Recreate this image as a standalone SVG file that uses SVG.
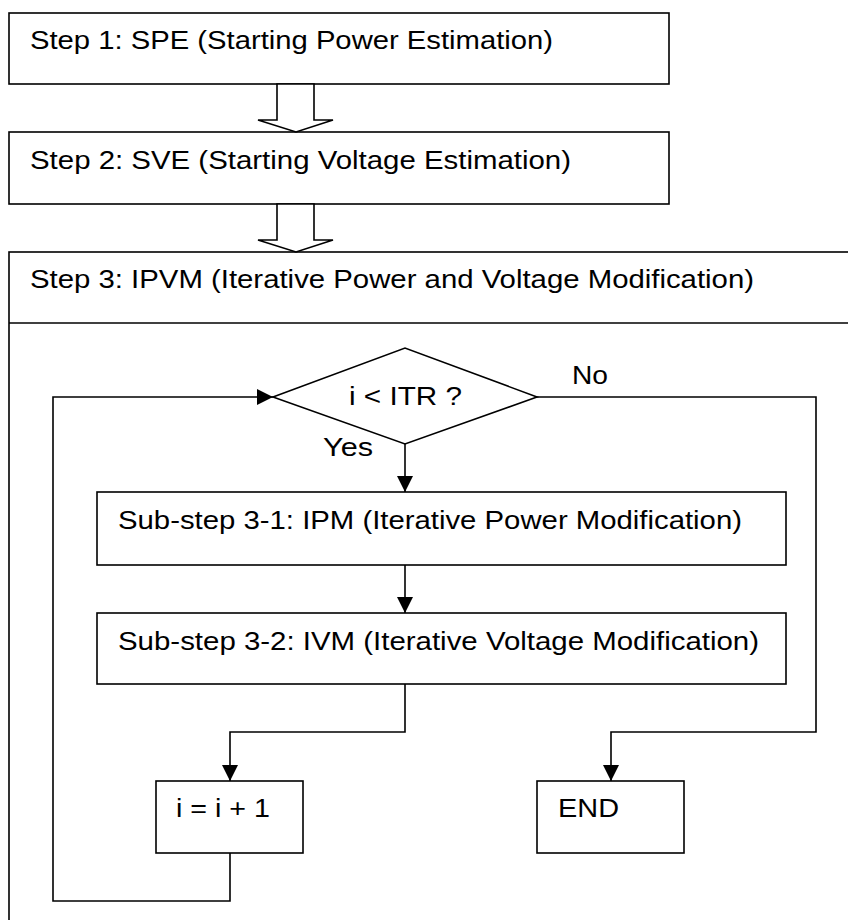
<svg xmlns="http://www.w3.org/2000/svg" width="848" height="920" viewBox="0 0 848 920">
  <style>
    .box { fill: #ffffff; stroke: #000000; stroke-width: 1.6; }
    .flow { fill: none; stroke: #000000; stroke-width: 1.6; }
    .label { font-family: "Liberation Sans", Arial, sans-serif; font-size: 26.5px; fill: #000000; }
  </style>
  <defs>
    <marker id="arrow" markerUnits="userSpaceOnUse" markerWidth="16" markerHeight="16" refX="16" refY="8" orient="auto">
      <path d="M0,0 L16,8 L0,16 Z" fill="#000000"/>
    </marker>
  </defs>
  <rect width="848" height="920" fill="#ffffff"/>

  <!-- outer stage 3 frame, continues past the page edge -->
  <g id="step3">
    <rect class="box" x="9" y="252" width="870" height="700"/>
    <line class="flow" x1="9" y1="323" x2="860" y2="323"/>
    <text class="label" x="30" y="288" textLength="724" lengthAdjust="spacingAndGlyphs">Step 3: IPVM (Iterative Power and Voltage Modification)</text>
  </g>

  <g id="step1">
    <rect class="box" x="9" y="13" width="660" height="71"/>
    <text class="label" x="30" y="49" textLength="523" lengthAdjust="spacingAndGlyphs">Step 1: SPE (Starting Power Estimation)</text>
  </g>

  <g id="step2">
    <rect class="box" x="9" y="132" width="660" height="72"/>
    <text class="label" x="30" y="168.5" textLength="541" lengthAdjust="spacingAndGlyphs">Step 2: SVE (Starting Voltage Estimation)</text>
  </g>

  <g id="decision">
    <polygon class="box" points="273,397 405,348 537,397 405,444"/>
    <text class="label" x="349" y="405" textLength="113" lengthAdjust="spacingAndGlyphs">i &lt; ITR ?</text>
  </g>

  <g id="substep31">
    <rect class="box" x="97" y="492" width="689" height="73"/>
    <text class="label" x="118" y="529" textLength="624" lengthAdjust="spacingAndGlyphs">Sub-step 3-1: IPM (Iterative Power Modification)</text>
  </g>

  <g id="substep32">
    <rect class="box" x="97" y="613" width="689" height="71"/>
    <text class="label" x="118" y="650" textLength="641" lengthAdjust="spacingAndGlyphs">Sub-step 3-2: IVM (Iterative Voltage Modification)</text>
  </g>

  <g id="increment">
    <rect class="box" x="156" y="781" width="147" height="72"/>
    <text class="label" x="176" y="817" textLength="94" lengthAdjust="spacingAndGlyphs">i = i + 1</text>
  </g>

  <g id="end">
    <rect class="box" x="537" y="781" width="147" height="72"/>
    <text class="label" x="558" y="817" textLength="61" lengthAdjust="spacingAndGlyphs">END</text>
  </g>

  <g id="connectors">
    <!-- hollow block arrows between the top stages -->
    <polygon class="box" points="277,84 277,120 258,120 296,132 333,120 314,120 314,84"/>
    <polygon class="box" points="277,204 277,240 258,240 296,252 333,240 314,240 314,204"/>
    <!-- loop flow -->
    <path class="flow" d="M405,444 V492" marker-end="url(#arrow)"/>
    <path class="flow" d="M405,565 V613" marker-end="url(#arrow)"/>
    <path class="flow" d="M405,684 V732 H230 V781" marker-end="url(#arrow)"/>
    <path class="flow" d="M537,397 H816 V732 H611 V781" marker-end="url(#arrow)"/>
    <path class="flow" d="M230,853 V901 H53 V397 H273" marker-end="url(#arrow)"/>
    <text class="label" x="572" y="384" textLength="36" lengthAdjust="spacingAndGlyphs">No</text>
    <text class="label" x="323" y="456" textLength="50" lengthAdjust="spacingAndGlyphs">Yes</text>
  </g>
</svg>
